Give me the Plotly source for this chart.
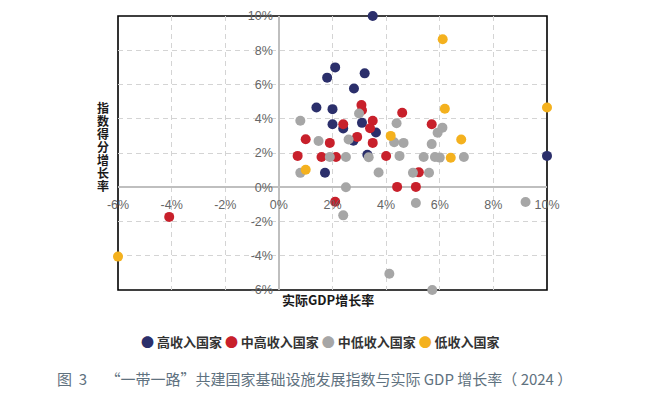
import plotly.graph_objects as go

# ---------------- data ----------------
series_names = ["高收入国家", "中高收入国家", "中低收入国家", "低收入国家"]
series_colors = ["#2b2f6b", "#c8202b", "#a6a6a6", "#f4b11e"]

high_x = [3.5, 2.1, 1.8, 3.2, 2.8, 1.4, 2.0, 2.0, 2.4, 3.1, 3.62, 2.78, 3.3, 1.72, 10.0]
high_y = [10.0, 7.0, 6.4, 6.65, 5.77, 4.66, 4.56, 3.68, 3.43, 3.76, 3.2, 2.72, 1.9, 0.85, 1.83]

upper_mid_x = [3.08, 3.1, 4.6, 2.4, 3.5, 3.4, 5.7, 1.0, 1.9, 2.92, 3.5, 0.7, 1.59, 2.13, 4.0,
               5.22, 4.41, 5.11, 2.1, -4.09]
upper_mid_y = [4.8, 4.5, 4.35, 3.68, 3.88, 3.45, 3.68, 2.8, 2.59, 2.94, 2.59, 1.83, 1.77, 1.77, 1.82,
               0.87, 0.02, 0.02, -0.85, -1.73]

lower_mid_x = [0.8, 2.99, 4.39, 6.1, 5.92, 1.48, 2.6, 4.3, 4.65, 5.7, 0.8, 1.9, 2.5, 3.35, 4.5,
               5.4, 5.82, 6.0, 6.9, 3.72, 5.0, 5.6, 2.5, 2.4, 5.11, 9.2, 4.12, 5.72]
lower_mid_y = [3.88, 4.31, 3.74, 3.48, 3.18, 2.7, 2.79, 2.63, 2.59, 2.52, 0.84, 1.77, 1.77, 1.75, 1.83,
               1.77, 1.77, 1.73, 1.77, 0.86, 0.85, 0.85, 0.0, -1.64, -0.92, -0.86, -5.05, -6.0]

low_x = [6.11, 6.19, 10.0, 4.17, 6.8, 1.0, 6.41, -6.0]
low_y = [8.64, 4.58, 4.66, 3.0, 2.79, 1.02, 1.72, -4.05]

tick_vals = [-6, -4, -2, 0, 2, 4, 6, 8, 10]
tick_text = ["-6%", "-4%", "-2%", "0%", "2%", "4%", "6%", "8%", "10%"]

x_title = "实际GDP增长率"
y_title = "指数得分增长率"
caption = ("图\u00a0\u00a03\u3000\u00a0“一带一路”共建国家基础设施发展指数与实际 GDP 增长率"
           "（\u00a02024\u00a0）")

# ---------------- layout constants ----------------
W, H = 650, 393
ML, MR, MT, MB = 118, 103, 16, 103
PW, PH = W - ML - MR, H - MT - MB


def px_x(p):
    return (p - ML) / PW


def px_y(p):
    return (H - MB - p) / PH


CJK = "Noto Sans CJK SC"

fig = go.Figure()
all_x = [high_x, upper_mid_x, lower_mid_x, low_x]
all_y = [high_y, upper_mid_y, lower_mid_y, low_y]
for name, col, xs, ys in zip(series_names, series_colors, all_x, all_y):
    fig.add_trace(go.Scatter(
        x=xs, y=ys, mode="markers", name=name,
        marker=dict(color=col, size=10, line=dict(width=0)),
        cliponaxis=False, showlegend=False,
    ))

axis_common = dict(
    range=[-6, 10], tickvals=tick_vals, ticktext=tick_text,
    showgrid=True, gridcolor="#d4d4d4", gridwidth=1, griddash="5px,4px",
    zeroline=True, zerolinecolor="#bfbfbf", zerolinewidth=1.5,
    showline=False, ticks="", anchor="free", position=0.375,
    tickfont=dict(family="Liberation Sans, Arial", size=12.5, color="#666666"),
    automargin=False, fixedrange=True,
)
fig.update_xaxes(**axis_common, ticklabelstandoff=8)
fig.update_yaxes(**axis_common, ticklabelstandoff=6)

# frame
fig.add_shape(type="rect", xref="paper", yref="paper", x0=0, x1=1, y0=0, y1=1,
              line=dict(color="#000000", width=1.6), layer="between")

annotations = []
# x title
annotations.append(dict(text="<b>" + x_title + "</b>", xref="paper", yref="paper",
                        x=px_x(280), y=px_y(299), xanchor="left", yanchor="middle",
                        showarrow=False, font=dict(family=CJK, size=13, color="#1a1a1a")))
# y title (stacked characters)
for i, ch in enumerate(y_title):
    annotations.append(dict(text="<b>" + ch + "</b>", xref="paper", yref="paper",
                            x=px_x(103), y=px_y(107 + 13 * i), xanchor="center", yanchor="middle",
                            showarrow=False, font=dict(family=CJK, size=12, color="#1a1a1a")))
# legend as rich text
legend_parts = []
for name, col in zip(series_names, series_colors):
    legend_parts.append('<span style="color:%s">●</span> <b>%s</b>' % (col, name))
annotations.append(dict(text=" ".join(legend_parts), xref="paper", yref="paper",
                        x=px_x(320), y=px_y(341), xanchor="center", yanchor="middle",
                        showarrow=False, font=dict(family=CJK, size=13, color="#333333")))
# caption
annotations.append(dict(text=caption, xref="paper", yref="paper",
                        x=px_x(55), y=px_y(378), xanchor="left", yanchor="middle",
                        showarrow=False, font=dict(family=CJK, size=15, color="#5f7280")))

fig.update_layout(
    width=W, height=H,
    margin=dict(l=ML, r=MR, t=MT, b=MB),
    plot_bgcolor="#ffffff", paper_bgcolor="#ffffff",
    showlegend=False, annotations=annotations,
)

fig.write_html("out.html", config={"displayModeBar": False},
               post_script="document.body.style.margin='0px';")
